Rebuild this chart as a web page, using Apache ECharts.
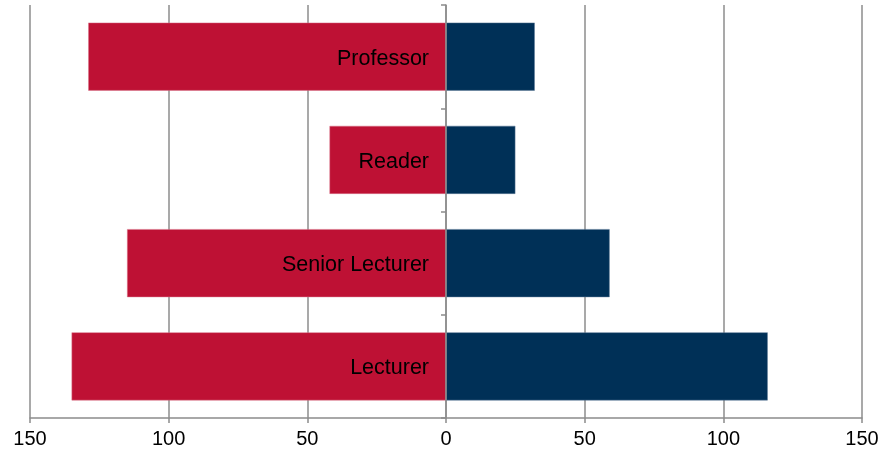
<!DOCTYPE html>
<html>
<head>
<meta charset="utf-8">
<script src="https://cdn.jsdelivr.net/npm/echarts@6/dist/echarts.min.js"></script>
<style>
  html, body { margin: 0; padding: 0; background: #fff; }
  #main { width: 883px; height: 456px; }
</style>
</head>
<body>
<div id="main"></div>
<script>
// categories top to bottom
var grades = ['Professor', 'Reader', 'Senior Lecturer', 'Lecturer'];
// left side (drawn as negative), right side
var leftValues = [129, 42, 115, 135];
var rightValues = [32, 25, 59, 116];
var tickValues = [-150, -100, -50, 0, 50, 100, 150];

var myChart = echarts.init(document.getElementById('main'));

var option = {
    animation: false,
    grid: { left: 30, right: 21, top: 5, bottom: 38, containLabel: false, outerBoundsMode: 'none' },
    xAxis: {
        type: 'value',
        min: tickValues[0],
        max: tickValues[tickValues.length - 1],
        interval: 50,
        axisLine: { show: true, lineStyle: { color: '#8c8c8c', width: 1.5 } },
        axisTick: { show: true, length: 5, lineStyle: { color: '#8c8c8c', width: 1.5 } },
        axisLabel: {
            color: '#000',
            fontFamily: 'Liberation Sans, Arial, sans-serif',
            fontSize: 20,
            margin: 11,
            formatter: function (v) { return Math.abs(v); }
        },
        splitLine: { show: true, lineStyle: { color: '#8c8c8c', width: 1.5 } }
    },
    yAxis: {
        type: 'category',
        data: grades,
        inverse: true,
        z: 10,
        axisLine: { show: true, onZero: true, lineStyle: { color: '#8c8c8c', width: 1.5 } },
        axisTick: { show: true, length: 5, lineStyle: { color: '#8c8c8c', width: 1.5 } },
        axisLabel: { show: false },
        splitLine: { show: false }
    },
    series: [
        {
            type: 'bar',
            stack: 'all',
            barWidth: 68,
            data: leftValues.map(function (v) { return -v; }),
            itemStyle: { color: '#BE1134', borderColor: '#d9768a', borderWidth: 0.5 },
            label: {
                show: true,
                position: 'insideRight',
                distance: 17,
                offset: [0, 2],
                color: '#000',
                fontFamily: 'Liberation Sans, Arial, sans-serif',
                fontSize: 21.5,
                formatter: function (p) { return p.name; }
            }
        },
        {
            type: 'bar',
            stack: 'all',
            barWidth: 68,
            data: rightValues,
            itemStyle: { color: '#003057', borderColor: '#5a7896', borderWidth: 0.5 }
        }
    ]
};

myChart.setOption(option);

window.addEventListener('resize', function () {
    myChart.resize();
});
</script>
</body>
</html>
